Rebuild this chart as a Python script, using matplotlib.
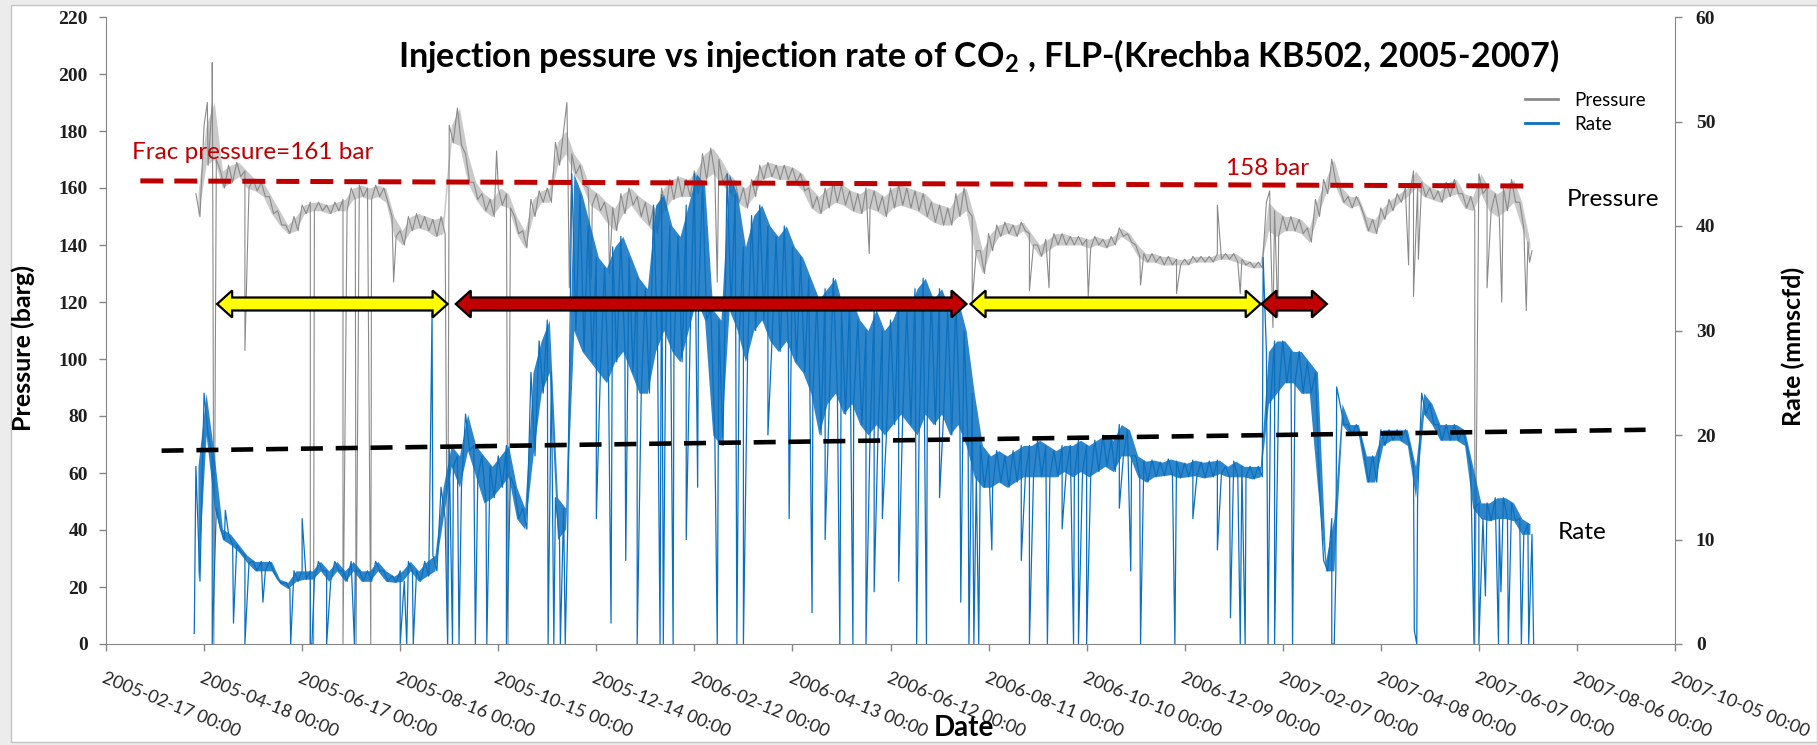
import numpy as np
import pandas as pd
import matplotlib
matplotlib.use('Agg')
import matplotlib.pyplot as plt
import matplotlib.dates as mdates
from matplotlib.lines import Line2D
from matplotlib.patches import Polygon, Rectangle
from matplotlib.transforms import IdentityTransform

plt.rcParams['font.family'] = ['Lato', 'DejaVu Sans']
plt.rcParams['mathtext.fontset'] = 'custom'
plt.rcParams['mathtext.rm'] = 'Lato'
plt.rcParams['mathtext.bf'] = 'Lato:bold'

# day numbers are counted from this date
base = pd.Timestamp('2005-02-17')

# one sample window every 5 days, day 55 .. 870 (first and second reading of each window)
sample_days = np.arange(55, 871, 5)

pressure_a = [158, 182, 190, 166, 168, 169, 166, 163, 162, 157,
              152, 147, 150, 154, 155, 155, 154, 155, 156, 160,
              161, 160, 161, 160, 150, 145, 150, 151, 150, 149,
              150, 182, 188, 172, 162, 158, 156, 160, 158, 150,
              145, 156, 159, 160, 176, 180, 172, 168, 160, 158,
              155, 153, 158, 160, 157, 155, 153, 160, 163, 164,
              163, 166, 172, 174, 170, 165, 162, 160, 163, 168,
              169, 168, 168, 167, 165, 160, 157, 160, 162, 161,
              159, 158, 160, 159, 157, 160, 161, 160, 159, 158,
              155, 154, 153, 158, 160, 150, 138, 144, 147, 148,
              147, 148, 144, 140, 142, 144, 144, 143, 143, 142,
              143, 142, 143, 146, 144, 140, 137, 137, 136, 136,
              135, 135, 136, 136, 136, 137, 137, 137, 135, 134,
              134, 155, 152, 150, 150, 149, 146, 156, 163, 170,
              160, 157, 157, 150, 149, 153, 156, 158, 160, 166,
              162, 160, 159, 162, 163, 158, 157, 165, 160, 158,
              160, 163, 155, 141]
pressure_b = [150, 168, 170, 160, 162, 164, 160, 159, 157, 151,
              147, 144, 145, 151, 152, 152, 151, 152, 152, 156,
              157, 156, 157, 155, 143, 140, 145, 146, 145, 143,
              144, 176, 175, 162, 156, 152, 150, 154, 153, 144,
              139, 150, 155, 155, 168, 172, 165, 161, 154, 152,
              148, 145, 151, 154, 150, 147, 144, 152, 156, 157,
              157, 158, 163, 165, 162, 158, 155, 153, 157, 163,
              164, 163, 163, 162, 159, 153, 151, 153, 155, 154,
              152, 151, 153, 152, 150, 153, 154, 153, 152, 150,
              148, 147, 147, 150, 152, 138, 130, 138, 143, 144,
              143, 145, 140, 136, 138, 140, 140, 140, 140, 139,
              140, 139, 140, 143, 141, 136, 134, 134, 133, 133,
              133, 133, 134, 134, 134, 135, 135, 134, 133, 132,
              132, 145, 143, 145, 145, 144, 141, 150, 158, 162,
              155, 153, 154, 145, 144, 149, 152, 155, 157, 160,
              157, 156, 155, 157, 158, 153, 152, 158, 152, 150,
              152, 155, 146, 138]

rate_a = [17, 24, 18, 11, 10.5, 9.5, 8.5, 7.9, 7.9, 7.9,
          6.2, 5.9, 7.0, 7.0, 7.0, 7.9, 7.0, 7.9, 7.0, 7.9,
          7.0, 7.0, 7.9, 7.0, 6.5, 7.0, 7.9, 7.0, 7.9, 8.5,
          15, 19, 18, 22, 19, 18, 17, 18, 19, 15,
          13, 26, 29, 31, 14, 13, 45, 43, 40, 37,
          36, 38, 39, 37, 35, 34, 42, 43, 40, 39,
          42, 45, 44, 32, 31, 45, 43, 38, 41, 42,
          40, 39, 40, 38, 37, 35, 33, 34, 35, 32,
          33, 31, 30, 32, 30, 31, 33, 32, 34, 35,
          33, 34, 32, 33, 30, 24, 19, 18, 18.5, 18,
          18.5, 19, 19, 19.5, 19, 18.5, 19, 19, 19.5, 19,
          19.5, 20, 19.5, 21, 20.5, 18, 17.5, 17.6, 17.4, 17.7,
          17.5, 17.3, 17.6, 17.4, 17.5, 17.6, 17, 17.5, 17, 17,
          17, 28, 29, 29, 28, 28, 27, 26, 8, 12,
          23, 21, 21, 18, 18, 20.5, 20.5, 20.5, 20.5, 17,
          24, 23, 21, 21, 21, 20.5, 17, 13.5, 13.5, 14,
          14, 13.5, 12, 11.5]
rate_b = [6, 20, 13, 10, 9.5, 8.8, 7.8, 7.0, 7.0, 7.0,
          5.8, 5.3, 6.0, 6.2, 6.2, 7.0, 6.0, 7.0, 6.0, 7.0,
          6.0, 6.0, 7.0, 6.0, 5.9, 6.0, 7.0, 6.0, 6.5, 7.0,
          12, 17, 15, 18.5, 16, 13.5, 14, 15, 16, 12,
          11, 18, 24, 26, 10, 11, 30, 28, 27, 26,
          25, 27, 28, 26, 24, 24, 28, 30, 28, 27,
          30, 33, 31, 20, 19, 32, 30, 27, 30, 31,
          29, 28, 29, 27, 26, 24, 20, 23, 24, 22,
          23, 21, 20, 21, 20, 21, 22, 21, 20, 22,
          21, 22, 20, 21, 19, 16, 15, 15, 15.5, 15,
          15.5, 16, 16, 16, 16, 16, 16.5, 16, 16.5, 16,
          16.5, 17, 16.5, 18, 18, 16, 15.5, 16.0, 16.1, 16.2,
          15.9, 16.0, 16.1, 15.9, 16.0, 16.3, 16, 16, 16, 15.8,
          16, 23, 24, 25, 25, 24, 24, 15, 7, 7,
          21, 20, 20, 15.5, 15.5, 19, 19.5, 19.5, 19, 14,
          22, 21, 19.5, 19.5, 19.5, 19, 13, 12, 11.8, 12,
          12, 11.8, 10.5, 10.5]

# shut-ins and short excursions (day, value)
pressure_spike_days = [62, 65, 65.5, 66, 85, 125, 126, 127, 145, 153, 162, 176, 209, 239, 246,
                       282, 283.5, 297, 308, 374, 467, 530, 565, 577, 601, 633, 655, 680, 694,
                       712, 714, 717, 797, 800, 803, 837.5, 845, 854, 869, 871]
pressure_spike_vals = [190, 204, 129, 0, 103, 0, 0, 0, 0, 0, 0, 127, 0, 173, 0,
                       190, 125, 128, 130, 127, 137, 120, 124, 125, 122, 126, 123, 154, 123,
                       159, 111, 115, 133, 122, 135, 0, 125, 120, 117, 134]

rate_spike_days = [54, 65, 73, 78, 85, 96, 113, 120, 125, 126, 135, 152, 180, 184, 188, 199.5,
                   209, 212, 216, 226, 233, 245, 270.5, 274, 278, 281, 300, 309, 318, 325,
                   339, 341, 347, 355, 362, 374, 386, 390, 405, 418, 432, 440, 449, 457,
                   465, 470, 475, 485, 496, 502, 510, 523, 528, 531, 534, 542, 560, 565,
                   576, 585, 592, 595, 600, 620, 627, 633, 654, 665, 680, 688, 694, 697,
                   708, 711, 715, 726, 750, 751.5, 753, 800.5, 802, 837, 840, 844, 852,
                   853.5, 858, 866, 870.5, 873.5]
rate_spike_vals = [1, 0, 12.8, 2, 0, 4, 0, 12, 0, 0, 0, 0, 0, 0, 0, 31.7,
                   0, 0, 0, 0, 0, 0, 0, 0, 0, 0, 12, 2, 8, 0,
                   0, 0, 0, 10, 15, 0, 0, 0, 20, 12, 3, 10, 0, 0,
                   0, 5, 12, 6, 0, 0, 14, 4, 0, 0, 0, 9, 8, 0,
                   0, 11, 0, 0, 0, 13, 7, 0, 0, 12, 9, 2.5, 0, 0,
                   37, 0, 0, 0, 0, 0, 24.6, 1.3, 0, 0, 0, 4.6, 0,
                   5, 0, 0, 0, 0]

# frac pressure line (bar) and rate trend line (mmscfd)
frac_days, frac_bar = [21, 871], [162.5, 160.7]
trend_days, trend_rate = [34, 942], [18.5, 20.5]

# injection periods shown as double arrows at 119 bar
period_days = [(68, 209), (214, 526.5), (529, 706.5), (707, 747)]
period_colors = ['#ffff00', '#c00000', '#ffff00', '#c00000']
period_level = 119.3

tick_days = np.arange(0, 961, 60)


def to_date(days):
    return base + pd.to_timedelta(np.asarray(days, dtype=float), unit='D')


def build_series(a, b, spike_days, spike_vals):
    t = np.concatenate([sample_days, sample_days + 2.5, spike_days])
    v = np.concatenate([a, b, spike_vals])
    order = np.argsort(t, kind='stable')
    return to_date(t[order]), v[order]


def draw_series(axis, a, b, spike_days, spike_vals, color, lw, band_alpha):
    # spread of each 5-day window as a band, the readings and excursions as a line
    a, b = np.asarray(a, float), np.asarray(b, float)
    axis.fill_between(to_date(sample_days + 1.25), np.minimum(a, b), np.maximum(a, b),
                      color=color, lw=0, alpha=band_alpha)
    x, v = build_series(a, b, spike_days, spike_vals)
    axis.plot(x, v, color=color, lw=lw)


W, H = 1817, 745
fig = plt.figure(figsize=(W / 100, H / 100), dpi=100)
fig.patch.set_facecolor('#ececec')
fig.add_artist(Rectangle((11 / W, 3 / H), (W - 11) / W, (740 - 3) / H, transform=fig.transFigure,
                         facecolor='white', edgecolor='#c4c4c4', lw=1, zorder=-10))

ax = fig.add_axes([106 / W, (H - 644) / H, (1675 - 106) / W, (644 - 17) / H])
ax2 = ax.twinx()
ax.patch.set_alpha(0)

gray = '#8a8a8a'
blue = '#0a70c0'
axis_col = '#868686'

draw_series(ax, pressure_a, pressure_b, pressure_spike_days, pressure_spike_vals, gray, 0.8, 0.45)
draw_series(ax2, rate_a, rate_b, rate_spike_days, rate_spike_vals, blue, 0.9, 0.85)

ax.set_xlim(base, base + pd.Timedelta(days=960))
ax.set_ylim(0, 220)
ax2.set_ylim(0, 60)

tick_font = dict(fontfamily='Liberation Serif', fontweight='bold', fontsize=14, color='#1e1e1e')
ax.set_yticks(np.arange(0, 221, 20), [str(v) for v in range(0, 221, 20)], **tick_font)
ax2.set_yticks(np.arange(0, 61, 10), [str(v) for v in range(0, 61, 10)], **tick_font)
ticks = to_date(tick_days)
ax.set_xticks(ticks, [t.strftime('%Y-%m-%d %H:%M') for t in ticks], fontsize=13, color='#262626')
for lab in ax.get_xticklabels():
    lab.set_rotation(-22)
    lab.set_ha('left')
    lab.set_va('top')
    lab.set_rotation_mode('anchor')

for a in (ax, ax2):
    a.spines['top'].set_visible(False)
    for s in a.spines.values():
        s.set_color(axis_col)
ax.spines['right'].set_visible(False)
ax2.spines['left'].set_visible(False)
ax2.spines['bottom'].set_visible(False)
ax.tick_params(axis='both', direction='out', length=5, width=1, color=axis_col)
ax.tick_params(axis='y', pad=8)
ax.tick_params(axis='x', pad=14)
ax2.tick_params(axis='y', direction='out', length=5, width=1, color=axis_col, pad=10)

# dashed reference lines
ax2.plot(to_date(frac_days), frac_bar, transform=ax.transData, color='#c00000', lw=3.6,
         linestyle=(0, (4.6, 2.2)), zorder=4)
ax2.plot(to_date(trend_days), trend_rate, color='black', lw=3.3,
         linestyle=(0, (4.8, 2.8)), zorder=4)

# double-headed period arrows, built in pixel space from the period dates
hl, hw, tw = 15, 13.5, 6.5
for (d0, d1), col in zip(period_days, period_colors):
    x0, yc = ax.transData.transform((mdates.date2num(to_date([d0])[0]), period_level))
    x1, _ = ax.transData.transform((mdates.date2num(to_date([d1])[0]), period_level))
    verts = [(x0, yc), (x0 + hl, yc + hw), (x0 + hl, yc + tw), (x1 - hl, yc + tw),
             (x1 - hl, yc + hw), (x1, yc), (x1 - hl, yc - hw), (x1 - hl, yc - tw),
             (x0 + hl, yc - tw), (x0 + hl, yc - hw)]
    ax2.add_patch(Polygon(verts, closed=True, transform=IdentityTransform(),
                          facecolor=col, edgecolor='black', lw=1.6, zorder=5))

# labels
ax2.text(to_date([16])[0], 172.3, 'Frac pressure=161 bar', transform=ax.transData,
         color='#c00000', fontsize=17.5, ha='left', va='center', zorder=6)
ax2.text(to_date([685])[0], 167, '158 bar', transform=ax.transData,
         color='#c00000', fontsize=17.5, ha='left', va='center', zorder=6)
ax2.text(to_date([894])[0], 156, 'Pressure', transform=ax.transData,
         color='black', fontsize=17.5, ha='left', va='center', zorder=6)
ax2.text(to_date([888])[0], 10.7, 'Rate', color='black', fontsize=17.5,
         ha='left', va='center', zorder=6)

ax.set_ylabel('Pressure (barg)', fontsize=18, fontweight='bold')
ax.yaxis.set_label_coords(-0.0452, 0.472)
ax2.set_ylabel('Rate (mmscfd)', fontsize=18, fontweight='bold')
ax2.yaxis.set_label_coords(1.0676, 0.475)

fig.text(964 / W, 1 - 728 / H, 'Date', fontsize=20, fontweight='bold', ha='center', va='center')
fig.text(979 / W, 1 - 56 / H,
         r'Injection pessure vs injection rate of CO$_\mathbf{2}$ , FLP-(Krechba KB502, 2005-2007)',
         fontsize=24.5, fontweight='bold', ha='center', va='center')

handles = [Line2D([], [], color=gray, lw=2), Line2D([], [], color=blue, lw=2)]
ax2.legend(handles, ['Pressure', 'Rate'], loc='upper left', bbox_to_anchor=(1525 / W, 1 - 92 / H),
           bbox_transform=fig.transFigure, frameon=False, fontsize=13.5, handlelength=1.75,
           handletextpad=0.85, labelspacing=0.35, borderpad=0, borderaxespad=0)

fig.savefig('out.png', dpi=100, facecolor=fig.get_facecolor())
